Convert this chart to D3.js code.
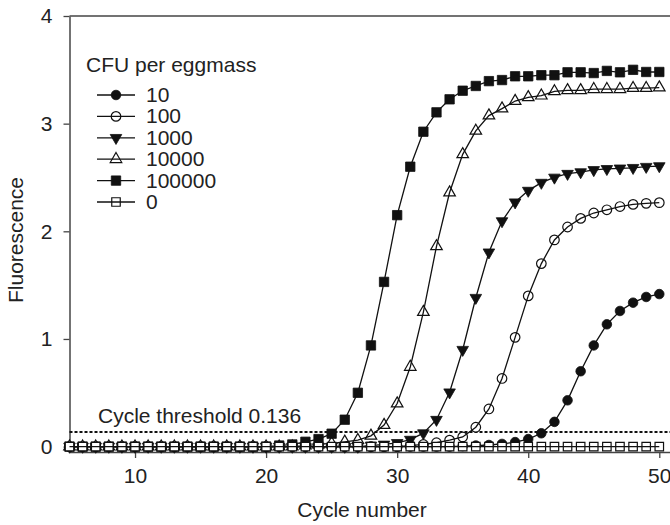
<!DOCTYPE html>
<html>
<head>
<meta charset="utf-8">
<script src="https://cdn.jsdelivr.net/npm/d3@7/dist/d3.min.js"></script>
<style>
  html, body { margin: 0; padding: 0; background: #fff; }
  svg { display: block; }
  text { font-family: "Liberation Sans", Arial, Helvetica, sans-serif; fill: #222; }
</style>
</head>
<body>
<svg id="chart" width="670" height="525"></svg>
<script>
// Cycle numbers on the x axis
const cycles = [5,6,7,8,9,10,11,12,13,14,15,16,17,18,19,20,21,22,23,24,25,26,27,28,29,30,
                31,32,33,34,35,36,37,38,39,40,41,42,43,44,45,46,47,48,49,50];

// Fluorescence readings per dilution (one value per cycle, cycles 5..50)
const cfu10 = [0,0,0,0,0,0,0,0,0,0,0,0,0,0,0,0,0,0,0,0,0,0,0,0,0,0,0,0,0,0,
               0.005,0.01,0.015,0.025,0.042,0.07,0.124,0.23,0.43,0.70,0.94,1.136,1.26,1.337,1.39,1.417];
const cfu100 = [0,0,0,0,0,0,0,0,0,0,0,0,0,0,0,0,0,0,0,0,0,0,0,0,0,0,
                0.01,0.02,0.036,0.06,0.09,0.18,0.35,0.633,1.015,1.40,1.70,1.92,2.04,2.12,2.17,2.20,2.23,2.25,2.26,2.266];
const cfu1000 = [0,0,0,0,0,0,0,0,0,0,0,0,0,0,0,0,0,0,0,0,0,0,0,
                 0.01,0.02,0.035,0.065,0.125,0.25,0.505,0.90,1.383,1.805,2.095,2.27,2.378,2.452,2.50,2.535,2.55,2.57,2.58,2.585,2.59,2.60,2.606];
const cfu10000 = [0,0,0,0,0,0,0,0,0,0,0,0,0,0,0,0,0,0,
                  0.01,0.02,0.03,0.045,0.06,0.10,0.20,0.40,0.74,1.25,1.86,2.36,2.715,2.933,3.075,3.14,3.21,3.245,3.26,3.30,3.31,3.31,3.32,3.32,3.32,3.33,3.33,3.335];
const cfu100000 = [0,0,0,0,0,0,0,0,0,0,0,0,0,0,0,0,
                   0.01,0.02,0.045,0.07,0.12,0.25,0.50,0.94,1.53,2.15,2.60,2.925,3.105,3.226,3.306,3.35,3.395,3.405,3.44,3.44,3.45,3.45,3.477,3.477,3.47,3.49,3.477,3.50,3.48,3.48];
const cfu0 = [0,0,0,0,0,0,0,0,0,0,0,0,0,0,0,0,0,0,0,0,0,0,0,0,0,0,0,0,0,0,
              0,0,0,0,0,0,0,0,0,0,0,0,0,0,0,0];

const seriesLabels = ["10", "100", "1000", "10000", "100000", "0"];
const seriesValues = [cfu10, cfu100, cfu1000, cfu10000, cfu100000, cfu0];
const seriesMarkers = ["circleFilled", "circleOpen", "triangleDown", "triangleOpen", "squareFilled", "squareOpen"];

const xTicks = [10, 20, 30, 40, 50];
const yTicks = [0, 1, 2, 3, 4];
const threshold = 0.136;

const svg = d3.select("#chart");
const x = d3.scaleLinear().domain([5, 51]).range([69.5, 672.4]);
const y = d3.scaleLinear().domain([-0.05, 4]).range([452, 16]);

const ink = "#111";
const axisInk = "#444";
const fontSize = 21;

// Axes
const xAxis = svg.append("g")
  .attr("transform", `translate(0,${y(-0.05)})`)
  .call(d3.axisBottom(x).tickValues(xTicks).tickFormat(d3.format("d"))
    .tickSize(6).tickSizeOuter(0).tickPadding(10));
const yAxis = svg.append("g")
  .attr("transform", `translate(${x(5)},0)`)
  .call(d3.axisLeft(y).tickValues(yTicks).tickFormat(d3.format("d"))
    .tickSize(6).tickSizeOuter(0).tickPadding(11));
[xAxis, yAxis].forEach(g => {
  g.select(".domain").attr("stroke", axisInk).attr("stroke-width", 1.5);
  g.selectAll(".tick line").attr("stroke", axisInk).attr("stroke-width", 1.3);
  g.selectAll(".tick text").attr("font-size", fontSize).attr("fill", "#222")
    .attr("font-family", "Liberation Sans, Arial, sans-serif");
});

// Top frame line
svg.append("line")
  .attr("x1", x(5)).attr("x2", x(51))
  .attr("y1", y(4)).attr("y2", y(4))
  .attr("stroke", axisInk).attr("stroke-width", 1.5);

// Axis titles
svg.append("text")
  .attr("x", 362).attr("y", 517)
  .attr("text-anchor", "middle").attr("font-size", fontSize)
  .text("Cycle number");
svg.append("text")
  .attr("transform", `translate(23,240) rotate(-90)`)
  .attr("text-anchor", "middle").attr("font-size", fontSize)
  .text("Fluorescence");

// Threshold line and label
svg.append("line")
  .attr("x1", x(5)).attr("x2", 670)
  .attr("y1", y(threshold)).attr("y2", y(threshold))
  .attr("stroke", "#111").attr("stroke-width", 2.2).attr("stroke-dasharray", "3,2");
svg.append("text")
  .attr("x", 98).attr("y", 423).attr("font-size", fontSize)
  .text(`Cycle threshold ${threshold}`);

// Marker drawing helper: open symbols are white-filled, the series line is drawn over them
function marker(sel, kind) {
  const sym = d3.symbol();
  if (kind.startsWith("circle")) sym.type(d3.symbolCircle).size(72);
  else if (kind.startsWith("triangle")) sym.type(d3.symbolTriangle).size(58);
  else sym.type(d3.symbolSquare).size(kind === "squareOpen" ? 72 : 88);
  const open = kind.endsWith("Open");
  sel.attr("d", sym)
    .attr("fill", open ? "#fff" : ink)
    .attr("stroke", ink)
    .attr("stroke-width", open ? 1.2 : 0.8);
  if (kind === "triangleDown") sel.attr("transform", function () {
    return (d3.select(this).attr("transform") || "") + " rotate(180)";
  });
}

const line = d3.line().x((d, i) => x(cycles[i])).y(d => y(d));

seriesValues.forEach((vals, si) => {
  const g = svg.append("g");
  g.selectAll("path.pt").data(vals).join("path")
    .attr("class", "pt")
    .attr("transform", (d, i) => `translate(${x(cycles[i])},${y(d)})`)
    .call(marker, seriesMarkers[si]);
  g.append("path").datum(vals)
    .attr("d", line).attr("fill", "none")
    .attr("stroke", ink).attr("stroke-width", 1.3);
});

// Legend
const legend = svg.append("g");
legend.append("text").attr("x", 86).attr("y", 72).attr("font-size", fontSize).text("CFU per eggmass");
seriesLabels.forEach((lab, i) => {
  const cy = 95 + i * 21.4;
  legend.append("path").attr("transform", `translate(116,${cy})`).call(marker, seriesMarkers[i]);
  legend.append("line").attr("x1", 97).attr("x2", 135).attr("y1", cy).attr("y2", cy)
    .attr("stroke", ink).attr("stroke-width", 1.3);
  legend.append("text").attr("x", 146).attr("y", cy + 7).attr("font-size", fontSize).text(lab);
});
</script>
</body>
</html>
